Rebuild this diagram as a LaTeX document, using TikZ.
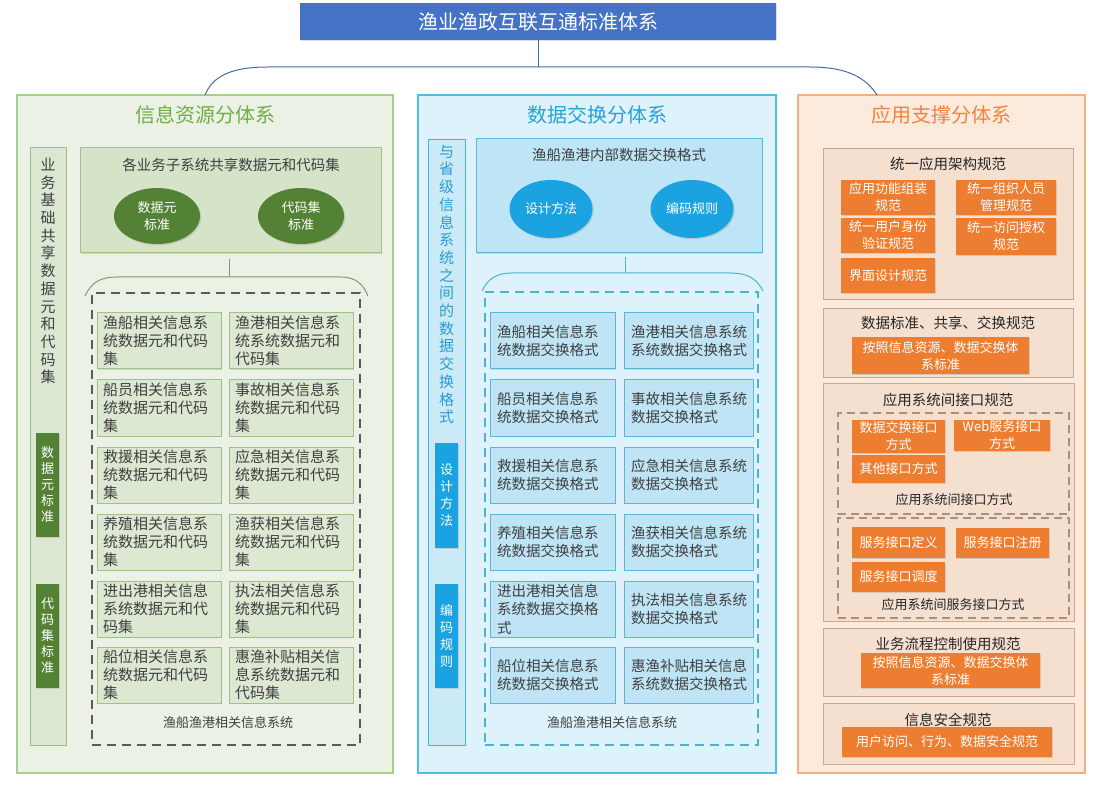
\documentclass[tikz,border=0pt]{standalone}
\usepackage{fontspec}
\setmainfont{Noto Sans CJK SC}
\usetikzlibrary{shapes.geometric,shadows}
\definecolor{titleblue}{HTML}{4472C4}
\definecolor{conn}{HTML}{4A6C9B}
\definecolor{txt}{HTML}{404040}
\definecolor{gpanel}{HTML}{EBF2E5}
\definecolor{gpanelb}{HTML}{A9CF8E}
\definecolor{gtitle}{HTML}{70AD47}
\definecolor{gbar}{HTML}{DCE7D2}
\definecolor{gbarb}{HTML}{9CBE84}
\definecolor{gtop}{HTML}{D5E3C9}
\definecolor{gtopb}{HTML}{A3C28A}
\definecolor{gdark}{HTML}{548235}
\definecolor{ginner}{HTML}{DDE8D3}
\definecolor{ginnerb}{HTML}{9FC088}
\definecolor{gdash}{HTML}{5A5A5A}
\definecolor{gbrace}{HTML}{7F9A72}
\definecolor{bpanel}{HTML}{DDF2FB}
\definecolor{bpanelb}{HTML}{4EC0DC}
\definecolor{btitle}{HTML}{25A3D8}
\definecolor{bbar}{HTML}{CBEAF7}
\definecolor{bbarb}{HTML}{47B3D3}
\definecolor{bvtext}{HTML}{2A9BCF}
\definecolor{bbright}{HTML}{1AA3E0}
\definecolor{btop}{HTML}{BDE5F6}
\definecolor{btopb}{HTML}{55BDDB}
\definecolor{binner}{HTML}{BEE4F5}
\definecolor{binnerb}{HTML}{5AB8D6}
\definecolor{bdash}{HTML}{4AB3CE}
\definecolor{opanel}{HTML}{FCEADC}
\definecolor{opanelb}{HTML}{F2B084}
\definecolor{otitle}{HTML}{EE8540}
\definecolor{osec}{HTML}{F5E0D0}
\definecolor{osecb}{HTML}{CCA68D}
\definecolor{orng}{HTML}{ED7D31}
\definecolor{odash}{HTML}{A89080}
\newcommand\mybox[7]{\node[#2, minimum width={#5-#3}, minimum height={#6-#4}] (#1) at ({(#3+#5)/2},{(#4+#6)/2}) {#7};}
\begin{document}
\begin{tikzpicture}[x=1pt,y=-1pt,
  base/.style={inner sep=0pt, outer sep=0pt, rectangle},
  shd/.style={drop shadow={opacity=0.25,shadow xshift=1.2pt,shadow yshift=-1.2pt}},
  titlebox/.style={base, fill=titleblue, text=white, font=\fontsize{20}{24}\selectfont, shd},
  conline/.style={draw=conn, line width=1pt},
  ptitle/.style={base, font=\fontsize{20}{24}\selectfont},
  gpnl/.style={base, draw=gpanelb, fill=gpanel, line width=1.2pt, shd},
  gbarst/.style={base, draw=gbarb, fill=gbar, line width=1pt},
  vtxt/.style={base, align=center, text=txt, font=\fontsize{15}{17.7}\selectfont},
  gdk/.style={base, fill=gdark, text=white, align=center, font=\fontsize{13}{16}\selectfont, shd},
  gtopst/.style={base, draw=gtopb, fill=gtop, line width=1pt, shd},
  sub/.style={base, text=txt, font=\fontsize{14.5}{18}\selectfont},
  gell/.style={base, ellipse, fill=gdark, text=white, align=center, font=\fontsize{13}{17}\selectfont, shd},
  gin/.style={base, draw=ginnerb, fill=ginner, line width=1pt, text width=112pt, inner xsep=6pt, align=left, text=txt, font=\fontsize{15}{18}\selectfont, shd},
  gdsh/.style={base, draw=gdash, line width=1.4pt, dash pattern=on 9pt off 6pt},
  lbl/.style={base, text=txt, font=\fontsize{13}{16}\selectfont},
  gbr/.style={draw=gbrace, line width=1pt},
  bpnl/.style={base, draw=bpanelb, fill=bpanel, line width=1.2pt, shd},
  bbarst/.style={base, draw=bbarb, fill=bbar, line width=1pt},
  bvtxt/.style={base, align=center, text=bvtext, font=\fontsize{15}{17.7}\selectfont},
  bdk/.style={base, fill=bbright, text=white, align=center, font=\fontsize{13}{17}\selectfont, shd},
  btopst/.style={base, draw=btopb, fill=btop, line width=1pt, shd},
  bell/.style={base, ellipse, fill=bbright, text=white, align=center, font=\fontsize{13}{17}\selectfont, shd},
  bin/.style={base, draw=binnerb, fill=binner, line width=1pt, inner xsep=7pt, align=left, text=txt, font=\fontsize{14.5}{18.5}\selectfont, shd},
  bdsh/.style={base, draw=bdash, line width=1.4pt, dash pattern=on 9pt off 6pt},
  bbr/.style={draw=bdash, line width=1pt},
  opnl/.style={base, draw=opanelb, fill=opanel, line width=1.2pt, shd},
  osecst/.style={base, draw=osecb, fill=osec, line width=1pt},
  stitle/.style={base, text=black!85, font=\fontsize{14.5}{18}\selectfont},
  obx/.style={base, fill=orng, text=white, align=center, font=\fontsize{13}{17}\selectfont, shd},
  odsh/.style={base, draw=odash, line width=1.2pt, dash pattern=on 8pt off 5pt},
  olbl/.style={base, text=black!85, font=\fontsize{13}{16}\selectfont}
]
\useasboundingbox[fill=white] (0,0) rectangle (1101,786);

% title
\mybox{T}{titlebox}{300}{3}{776}{40}{渔业渔政互联互通标准体系}

% panels
\mybox{GL}{gpnl}{17}{95}{393}{773}{}
\mybox{BL}{bpnl}{418}{95}{776}{773}{}
\mybox{OL}{opnl}{798}{95}{1085}{773}{}
\coordinate (rc) at (877,95);
\coordinate (hj) at (538,67);
\draw[conline] (T.south) -- (hj);
\draw[conline] (GL.north) .. controls (212,78) and (228,67) .. (268,67) -- (810,67) .. controls (848,67) and (866,78) .. (rc);

\node[ptitle, text=gtitle] (GLt) at (205,115) {信息资源分体系};
\node[ptitle, text=btitle] (BLt) at (597,115) {数据交换分体系};
\node[ptitle, text=otitle] (OLt) at (941,115) {应用支撑分体系};

% ===== left panel
\mybox{gbar}{gbarst}{30}{148}{66}{745}{}
\node[vtxt] (gbart) at (48,271) {业\\务\\基\\础\\共\\享\\数\\据\\元\\和\\代\\码\\集};
\mybox{gd1}{gdk}{36}{433}{59}{537}{数\\据\\元\\标\\准}
\mybox{gd2}{gdk}{36}{584}{59}{688}{代\\码\\集\\标\\准}

\mybox{gtop}{gtopst}{80}{148}{381}{253}{}
\node[sub] (gtopt) at (231,165) {各业务子系统共享数据元和代码集};
\node[gell, minimum width=86pt, minimum height=56pt] (ge1) at (157,216) {数据元\\标准};
\node[gell, minimum width=86pt, minimum height=56pt] (ge2) at (301,216) {代码集\\标准};

\coordinate (gbj) at (229,277);
\coordinate (gbs) at (229,259);
\draw[gbr] (gbs) -- (gbj);
\draw[gbr] (85,296) .. controls (92,282) and (100,277) .. (118,277) -- (340,277) .. controls (356,277) and (363,284) .. (368,296);
\mybox{gdash}{gdsh}{92}{293}{360}{745}{}

\mybox{g11}{gin}{97}{313}{221}{369}{渔船相关信息系\\统数据元和代码\\集}
\mybox{g12}{gin}{229}{313}{353}{369}{渔港相关信息系\\统系统数据元和\\代码集}
\mybox{g21}{gin}{97}{380}{221}{436}{船员相关信息系\\统数据元和代码\\集}
\mybox{g22}{gin}{229}{380}{353}{436}{事故相关信息系\\统数据元和代码\\集}
\mybox{g31}{gin}{97}{447}{221}{503}{救援相关信息系\\统数据元和代码\\集}
\mybox{g32}{gin}{229}{447}{353}{503}{应急相关信息系\\统数据元和代码\\集}
\mybox{g41}{gin}{97}{514}{221}{570}{养殖相关信息系\\统数据元和代码\\集}
\mybox{g42}{gin}{229}{514}{353}{570}{渔获相关信息系\\统数据元和代码\\集}
\mybox{g51}{gin}{97}{581}{221}{637}{进出港相关信息\\系统数据元和代\\码集}
\mybox{g52}{gin}{229}{581}{353}{637}{执法相关信息系\\统数据元和代码\\集}
\mybox{g61}{gin}{97}{647}{221}{703}{船位相关信息系\\统数据元和代码\\集}
\mybox{g62}{gin}{229}{647}{353}{703}{惠渔补贴相关信\\息系统数据元和\\代码集}
\node[lbl] (glbl) at (228,723) {渔船渔港相关信息系统};

% ===== middle panel
\mybox{bbar}{bbarst}{428}{140}{465}{745}{}
\node[bvtxt] (bbart) at (446.5,284.5) {与\\省\\级\\信\\息\\系\\统\\之\\间\\的\\数\\据\\交\\换\\格\\式};
\mybox{bd1}{bdk}{435}{443}{458}{548}{设\\计\\方\\法}
\mybox{bd2}{bdk}{435}{584}{458}{688}{编\\码\\规\\则}

\mybox{btop}{btopst}{476}{139}{762}{253}{}
\node[sub] (btopt) at (619,155) {渔船渔港内部数据交换格式};
\node[bell, minimum width=83pt, minimum height=58pt] (be1) at (551,209) {设计方法};
\node[bell, minimum width=83pt, minimum height=58pt] (be2) at (692,209) {编码规则};

\coordinate (bbj) at (625,273);
\coordinate (bbs) at (625,257);
\draw[bbr] (bbs) -- (bbj);
\draw[bbr] (482,291) .. controls (488,279) and (496,273) .. (512,273) -- (730,273) .. controls (748,273) and (757,279) .. (763,291);
\mybox{bdash}{bdsh}{485}{292}{758}{745}{}

\mybox{b11}{bin, text width=111pt}{490}{313}{615}{369}{渔船相关信息系\\统数据交换格式}
\mybox{b12}{bin, text width=115pt}{624}{313}{753}{369}{渔港相关信息系统\\系统数据交换格式}
\mybox{b21}{bin, text width=111pt}{490}{380}{615}{436}{船员相关信息系\\统数据交换格式}
\mybox{b22}{bin, text width=115pt}{624}{380}{753}{436}{事故相关信息系统\\数据交换格式}
\mybox{b31}{bin, text width=111pt}{490}{447}{615}{503}{救援相关信息系\\统数据交换格式}
\mybox{b32}{bin, text width=115pt}{624}{447}{753}{503}{应急相关信息系统\\数据交换格式}
\mybox{b41}{bin, text width=111pt}{490}{514}{615}{570}{养殖相关信息系\\统数据交换格式}
\mybox{b42}{bin, text width=115pt}{624}{514}{753}{570}{渔获相关信息系统\\数据交换格式}
\mybox{b51}{bin, text width=111pt}{490}{581}{615}{637}{进出港相关信息\\系统数据交换格\\式}
\mybox{b52}{bin, text width=115pt}{624}{581}{753}{637}{执法相关信息系统\\数据交换格式}
\mybox{b61}{bin, text width=111pt}{490}{647}{615}{703}{船位相关信息系\\统数据交换格式}
\mybox{b62}{bin, text width=115pt}{624}{647}{753}{703}{惠渔补贴相关信息\\系统数据交换格式}
\node[lbl] (blbl) at (612,723) {渔船渔港相关信息系统};

% ===== right panel
\mybox{s1}{osecst}{823}{149}{1073}{300}{}
\node[stitle] (s1t) at (948,164) {统一应用架构规范};
\mybox{o1}{obx}{841}{180}{935}{215}{应用功能组装\\规范}
\mybox{o2}{obx}{956}{180}{1056}{215}{统一组织人员\\管理规范}
\mybox{o3}{obx}{841}{218}{935}{253}{统一用户身份\\验证规范}
\mybox{o4}{obx}{956}{218}{1056}{255}{统一访问授权\\规范}
\mybox{o5}{obx}{841}{258}{935}{293}{界面设计规范}

\mybox{s2}{osecst}{823}{309}{1073}{378}{}
\node[stitle] (s2t) at (948,323) {数据标准、共享、交换规范};
\mybox{o6}{obx}{852}{337}{1029}{374}{按照信息资源、数据交换体\\系标准}

\mybox{s3}{osecst}{823}{384}{1074}{621}{}
\node[stitle] (s3t) at (948,400) {应用系统间接口规范};
\mybox{d1}{odsh}{838}{413}{1069}{514}{}
\mybox{o7}{obx}{852}{420}{945}{453}{数据交换接口\\方式}
\mybox{o8}{obx}{954}{420}{1050}{451}{Web服务接口\\方式}
\mybox{o9}{obx}{852}{455}{945}{483}{其他接口方式}
\node[olbl] (l1) at (954,500) {应用系统间接口方式};
\mybox{d2}{odsh}{838}{518}{1069}{618}{}
\mybox{o10}{obx}{852}{527}{945}{558}{服务接口定义}
\mybox{o11}{obx}{956}{528}{1049}{558}{服务接口注册}
\mybox{o12}{obx}{852}{562}{945}{592}{服务接口调度}
\node[olbl] (l2) at (953,605) {应用系统间服务接口方式};

\mybox{s4}{osecst}{823}{628}{1074}{696}{}
\node[stitle] (s4t) at (948,644) {业务流程控制使用规范};
\mybox{o13}{obx}{861}{653}{1040}{688}{按照信息资源、数据交换体\\系标准}

\mybox{s5}{osecst}{823}{703}{1074}{764}{}
\node[stitle] (s5t) at (948,720) {信息安全规范};
\mybox{o14}{obx}{842}{727}{1052}{757}{用户访问、行为、数据安全规范}
\end{tikzpicture}
\end{document}
